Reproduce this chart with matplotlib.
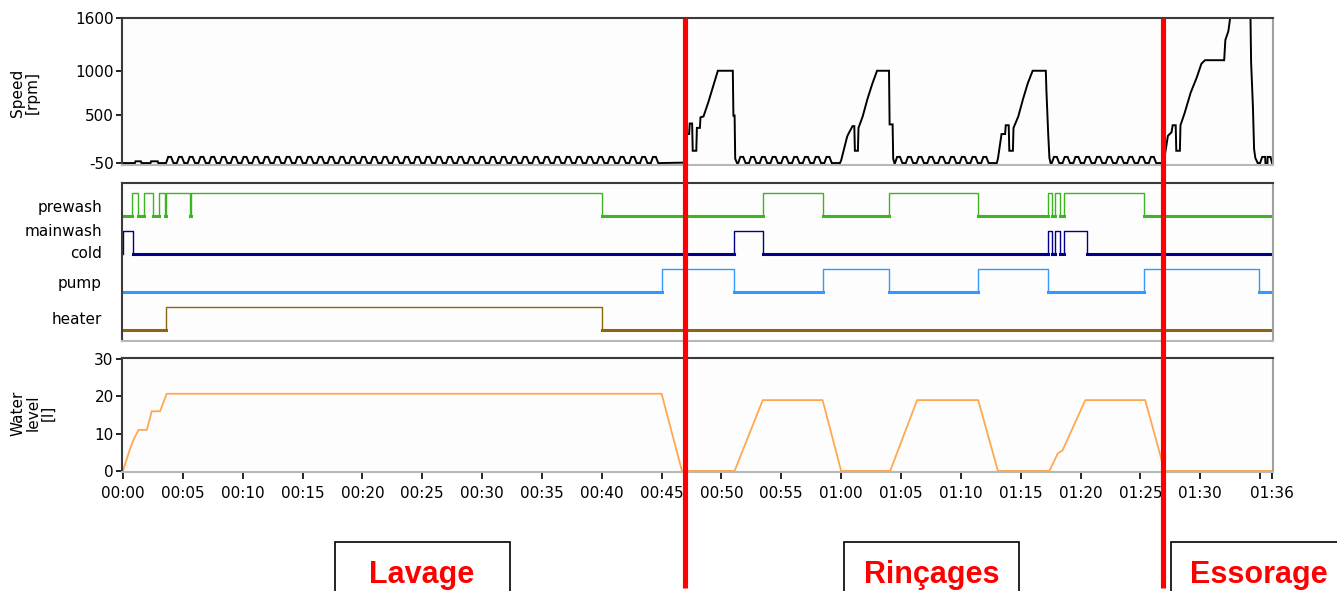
import numpy as np
import matplotlib
matplotlib.use("Agg")
import matplotlib.pyplot as plt
import matplotlib.transforms as mtransforms
from matplotlib.patches import Rectangle

# ---------------- data (time in minutes) ----------------
# speed key points outside the tumbling phases
speed_key_t = [0, 1.0, 1.05, 1.5, 1.55, 2.3, 2.35, 2.9, 2.95, 3.5,
               44.9, 46.9,
               47.0, 47.3, 47.35, 47.55, 47.6, 47.9, 47.95, 48.2, 48.25, 48.5, 48.9, 49.3, 49.7, 50.95, 51.0, 51.1, 51.15, 51.3,
               59.9, 60.0, 60.5, 60.6, 60.95, 61.1, 61.15, 61.4, 61.45, 61.8, 62.2, 62.6, 63.0, 64.0, 64.05, 64.3, 64.35, 64.45,
               73.0, 73.1, 73.4, 73.7, 73.75, 74.0, 74.05, 74.35, 74.4, 74.8, 75.2, 75.6, 76.0, 77.1, 77.15, 77.3, 77.4, 77.5,
               86.9, 87.0, 87.3, 87.6, 87.7, 87.95, 88.0, 88.3, 88.35, 88.7, 89.2, 89.7, 90.1, 90.4, 92.0, 92.1, 92.35, 92.5,
               94.2, 94.25, 94.4, 94.5, 94.6, 94.8, 96.0]
speed_key_v = [-50, -50, -30, -30, -50, -50, -30, -30, -50, -50,
               -50, -45,
               280, 280, 400, 400, 90, 90, 350, 350, 470, 480, 640, 820, 1000, 1000, 490, 490, 0, -50,
               -50, -20, 250, 280, 370, 370, 90, 90, 350, 480, 680, 850, 1000, 1000, 390, 390, 0, -50,
               -50, 0, 280, 280, 380, 380, 90, 90, 350, 480, 680, 860, 1000, 1000, 775, 280, 10, -50,
               -50, 0, 260, 300, 380, 380, 90, 90, 380, 520, 750, 920, 1080, 1120, 1120, 1350, 1450, 1600,
               1600, 1100, 600, 110, 10, -50, -50]
# start times of the drum tumbling humps
tumble_starts = [3.6, 4.5, 5.4, 6.3, 7.2, 8.1, 9.0, 9.9, 10.8, 11.7, 12.6, 13.5, 14.4, 15.3, 16.2,
                 17.1, 18.0, 18.9, 19.8, 20.7, 21.6, 22.5, 23.4, 24.3, 25.2, 26.1, 27.0, 27.9, 28.8,
                 29.7, 30.6, 31.5, 32.4, 33.3, 34.2, 35.1, 36.0, 36.9, 37.8, 38.7, 39.6, 40.5, 41.4,
                 42.3, 43.2, 44.1,
                 51.4, 52.3, 53.2, 54.1, 55.0, 55.9, 56.8, 57.7, 58.6,
                 64.5, 65.4, 66.3, 67.2, 68.1, 69.0, 69.9, 70.8, 71.7,
                 77.6, 78.5, 79.4, 80.3, 81.2, 82.1, 83.0, 83.9, 84.8, 85.7,
                 95.0, 95.45]
tumble_dt = [0.0, 0.18, 0.42, 0.62]
tumble_v = [-50, 20, 20, -50]

# digital channels: transition times and states
prewash_t = [0, 0.78, 1.28, 1.75, 2.55, 3.0, 3.55, 3.62, 5.6, 5.66, 40.0, 53.45, 58.45, 64.0,
             71.45, 77.3, 77.6, 77.85, 78.3, 78.65, 85.3, 96.0]
prewash_s = [0, 1, 0, 1, 0, 1, 0, 1, 0, 1, 0, 1, 0, 1, 0, 1, 0, 1, 0, 1, 0, 0]
mainwash_t = [0, 0.02, 0.8, 51.07, 53.45, 77.3, 77.6, 77.85, 78.3, 78.65, 80.5, 96.0]
mainwash_s = [0, 1, 0, 1, 0, 1, 0, 1, 0, 1, 0, 0]
pump_t = [0, 45.0, 51.07, 58.45, 64.0, 71.45, 77.3, 85.3, 94.95, 96.0]
pump_s = [0, 1, 0, 1, 0, 1, 0, 1, 0, 0]
heater_t = [0, 3.6, 40.0, 96.0]
heater_s = [0, 1, 0, 0]

# water level
water_t = [0, 0.3, 0.6, 0.9, 1.3, 2.0, 2.4, 3.1, 3.65, 45.0, 46.7, 51.1, 53.45, 58.45, 60.0,
           64.1, 66.35, 71.45, 73.1, 77.4, 77.7, 78.1, 78.5, 80.4, 85.4, 86.6, 87.0, 96.0]
water_v = [0, 3, 6, 8.5, 11, 11, 16, 16, 20.7, 20.7, 0, 0, 19, 19, 0,
           0, 19, 19, 0, 0, 2, 4.7, 5.5, 19, 19, 5, 0, 0]

phase_bounds = [46.95, 86.9]
phase_names = ["Lavage", "Rinçages", "Essorage"]
speed_ticks = [-50, 500, 1000, 1600]
water_ticks = [0, 10, 20, 30]
time_ticks = [0, 5, 10, 15, 20, 25, 30, 35, 40, 45, 50, 55, 60, 65, 70, 75, 80, 85, 90, 95, 96]
time_labels = ["00:00", "00:05", "00:10", "00:15", "00:20", "00:25", "00:30", "00:35", "00:40",
               "00:45", "00:50", "00:55", "01:00", "01:05", "01:10", "01:15", "01:20", "01:25",
               "01:30", "", "01:36"]

# ---------------- figure ----------------
W, H = 1337, 591
fig = plt.figure(figsize=(W / 100, H / 100), dpi=100)
fig.patch.set_facecolor("white")


def px_axes(left, top, right, bottom):
    return fig.add_axes([left / W, 1 - bottom / H, (right - left) / W, (bottom - top) / H])


XL = (-0.08, 96.08)
ax_s = px_axes(122, 18, 1273, 165)
ax_d = px_axes(122, 183, 1273, 341)
ax_w = px_axes(122, 358, 1273, 472)

for ax in (ax_s, ax_d, ax_w):
    ax.set_xlim(*XL)
    ax.set_facecolor("#fdfdfd")
    ax.spines["top"].set_color("#3a3a3a")
    ax.spines["left"].set_color("#3a3a3a")
    ax.spines["right"].set_color("#a0a0a0")
    ax.spines["bottom"].set_color("#b8b8b8")
    for sp in ax.spines.values():
        sp.set_linewidth(1.5)

# speed trace
pts = list(zip(speed_key_t, speed_key_v))
for s in tumble_starts:
    for dt, v in zip(tumble_dt, tumble_v):
        pts.append((s + dt, v))
pts.sort(key=lambda p: p[0])
st = [p[0] for p in pts]
sv = [p[1] for p in pts]
ax_s.plot(st, sv, color="black", lw=1.4, solid_joinstyle="miter")
ax_s.set_ylim(-72, 1600)
ax_s.set_yticks(speed_ticks)
ax_s.set_yticklabels([str(v) for v in speed_ticks])
ax_s.tick_params(axis="y", direction="out", length=4, width=1.2, labelsize=11, pad=2)
ax_s.set_xticks([])

# digital channels
channels = [
    (prewash_t, prewash_s, 125.3, "#3cb521"),
    (mainwash_t, mainwash_s, 87.0, "#00008b"),
    (pump_t, pump_s, 49.3, "#3399ff"),
    (heater_t, heater_s, 11.0, "#8c6510"),
]
for t, s, base, col in channels:
    s = np.array(s, dtype=float)
    y = base + 23 * s
    ax_d.step(t, y, where="post", color=col, lw=1.0)
    ylow = np.where(s == 0, base, np.nan)
    ax_d.step(t, ylow, where="post", color=col, lw=2.2)
ax_d.set_ylim(0, 158)
ax_d.set_xticks([])
ax_d.set_yticks([])

labels = [("prewash", 207), ("mainwash", 232), ("cold", 253), ("pump", 283), ("heater", 320)]
for txt, ypx in labels:
    fig.text(102 / W, 1 - ypx / H, txt, ha="right", va="center", fontsize=11)

# water level
ax_w.plot(water_t, water_v, color="#ffa850", lw=1.3)
ax_w.set_ylim(-0.3, 30.3)
ax_w.set_yticks(water_ticks)
ax_w.set_yticklabels([str(v) for v in water_ticks])
ax_w.set_xticks(time_ticks)
ax_w.set_xticklabels(time_labels)
ax_w.tick_params(axis="both", direction="out", length=4, width=1.2, labelsize=11, pad=2)
ax_w.tick_params(axis="x", length=5, pad=5)

# axis titles
fig.text(25 / W, 1 - 93 / H, "Speed\n[rpm]", rotation=90, ha="center", va="center",
         fontsize=11, multialignment="center", linespacing=1.0)
fig.text(33 / W, 1 - 413 / H, "Water\nlevel\n[l]", rotation=90, ha="center", va="center",
         fontsize=11, multialignment="center", linespacing=1.0)

# red phase separators
trans = mtransforms.blended_transform_factory(ax_s.transData, fig.transFigure)
for xb in phase_bounds:
    fig.add_artist(plt.Line2D([xb, xb], [1 - 18 / H, 1 - 588 / H], transform=trans,
                              color="#ff0000", lw=3.7, zorder=10, solid_capstyle="butt"))

# phase boxes
boxes = [(335, 510, 422), (844, 1019, 932), (1171, 1345, 1259)]
for (x0, x1, xc), name in zip(boxes, phase_names):
    fig.add_artist(Rectangle((x0 / W, 1 - 600 / H), (x1 - x0) / W, (600 - 542) / H,
                             transform=fig.transFigure, facecolor="white",
                             edgecolor="black", lw=1.2, clip_on=False, zorder=5))
    fig.text(xc / W, 1 - 583 / H, name, ha="center", va="baseline", color="#ff0000",
             fontsize=22, fontweight="bold", family="Liberation Sans", zorder=6)

fig.savefig("out.png", dpi=100, facecolor="white")
